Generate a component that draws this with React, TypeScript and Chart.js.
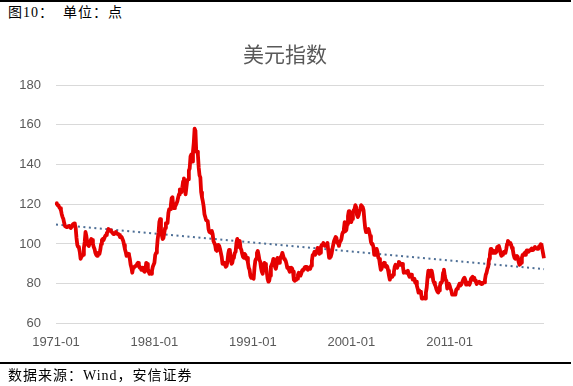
import React, { useEffect, useRef } from "react";
import { Chart, registerables } from "chart.js";

Chart.register(...registerables);

const startYear = 1971;
const dxyByYear: number[][] = [
  [120.5, 120.2, 119.5, 119.4, 118.5, 118.0, 117.0, 115.0, 113.5, 112.5, 110.5, 109.0],
  [109.0, 108.5, 108.5, 108.8, 109.0, 108.5, 108.0, 108.5, 109.5, 110.0, 110.3, 110.0],
  [108.0, 103.0, 99.5, 98.5, 98.0, 96.0, 92.5, 93.5, 94.0, 94.5, 98.0, 101.0],
  [106.0, 104.0, 101.0, 99.5, 99.0, 100.5, 101.5, 102.5, 102.0, 100.0, 98.5, 97.5],
  [95.5, 94.5, 94.0, 95.5, 95.0, 95.0, 97.0, 100.0, 102.0, 102.5, 102.0, 103.0],
  [104.0, 104.5, 105.5, 106.0, 107.5, 107.0, 107.0, 106.5, 106.0, 105.5, 105.0, 105.0],
  [105.5, 106.0, 105.5, 105.0, 105.0, 104.5, 103.5, 103.5, 103.5, 102.5, 101.5, 99.5],
  [97.5, 96.0, 94.0, 94.5, 95.0, 94.5, 92.5, 89.5, 88.0, 85.5, 88.0, 88.5],
  [88.5, 89.0, 89.0, 90.0, 90.5, 89.5, 88.0, 88.0, 87.0, 88.0, 87.5, 86.5],
  [86.0, 86.5, 90.5, 90.0, 87.5, 86.0, 85.0, 85.5, 85.0, 86.5, 88.5, 89.5],
  [90.5, 94.5, 95.5, 97.5, 102.5, 105.5, 111.0, 112.5, 106.5, 104.5, 102.5, 103.0],
  [105.5, 108.0, 110.5, 110.5, 110.5, 115.5, 117.5, 117.5, 119.5, 123.0, 123.5, 118.0],
  [118.0, 119.0, 119.5, 120.5, 121.5, 123.5, 125.0, 127.5, 127.5, 126.0, 128.5, 131.5],
  [133.0, 129.0, 125.0, 128.5, 132.0, 132.5, 137.0, 138.0, 144.0, 145.0, 141.5, 146.5],
  [151.0, 158.0, 157.0, 146.5, 146.5, 145.0, 138.5, 134.5, 133.5, 126.0, 123.5, 121.5],
  [119.0, 115.0, 113.5, 112.0, 112.0, 111.5, 107.5, 106.0, 106.0, 105.5, 106.5, 105.0],
  [101.5, 100.5, 99.5, 97.0, 96.5, 98.0, 99.5, 99.0, 97.5, 97.5, 93.5, 90.0],
  [90.0, 90.5, 89.5, 88.5, 89.0, 91.0, 95.0, 97.0, 96.5, 93.5, 90.0, 90.5],
  [93.0, 93.5, 95.5, 96.0, 100.5, 102.5, 98.5, 100.5, 101.5, 98.0, 97.0, 95.0],
  [93.5, 93.0, 95.0, 94.5, 92.5, 93.0, 90.5, 88.0, 87.0, 84.0, 83.0, 83.5],
  [83.0, 82.5, 88.0, 91.5, 92.5, 95.5, 96.5, 94.5, 92.0, 91.0, 88.0, 86.0],
  [85.0, 88.0, 90.5, 90.0, 88.5, 86.0, 82.5, 81.0, 81.5, 84.0, 88.5, 89.5],
  [90.5, 92.5, 92.0, 88.5, 87.5, 89.5, 93.0, 92.5, 90.5, 92.0, 93.5, 94.0],
  [95.5, 94.0, 92.5, 92.0, 91.5, 90.0, 88.0, 88.0, 87.0, 86.0, 86.5, 88.0],
  [87.5, 86.0, 82.0, 81.5, 82.5, 82.0, 82.5, 84.5, 85.5, 84.0, 84.0, 85.0],
  [86.5, 87.0, 87.0, 88.0, 88.5, 88.5, 87.5, 87.0, 87.5, 88.0, 87.5, 89.0],
  [91.5, 94.5, 94.5, 96.0, 94.5, 94.5, 96.5, 98.0, 96.5, 95.0, 95.5, 98.5],
  [99.5, 99.5, 100.5, 99.5, 99.0, 99.5, 99.5, 100.5, 96.5, 93.0, 94.5, 93.5],
  [95.0, 97.5, 99.5, 101.5, 101.5, 103.5, 103.0, 100.5, 100.5, 99.0, 101.0, 101.5],
  [102.5, 105.0, 106.0, 107.5, 111.0, 106.5, 107.0, 110.0, 114.0, 116.5, 116.5, 113.0],
  [111.0, 112.5, 115.5, 117.0, 117.5, 119.5, 118.5, 114.5, 113.5, 114.5, 116.5, 117.5],
  [119.5, 119.5, 118.5, 117.0, 112.0, 108.0, 106.0, 106.5, 106.5, 107.5, 106.0, 104.0],
  [101.0, 100.0, 100.0, 98.5, 94.5, 94.5, 96.0, 97.5, 96.0, 93.0, 92.5, 89.5],
  [87.0, 87.5, 89.0, 90.0, 90.5, 89.5, 88.5, 89.0, 88.5, 86.5, 84.0, 82.0],
  [83.5, 84.0, 83.5, 84.5, 86.0, 88.5, 89.5, 88.5, 88.0, 89.5, 91.0, 90.5],
  [89.5, 90.0, 90.0, 88.5, 85.5, 86.0, 86.0, 85.5, 85.5, 86.5, 84.5, 83.5],
  [84.5, 84.5, 83.5, 82.0, 82.0, 82.5, 80.5, 81.0, 79.0, 77.5, 75.5, 76.5],
  [76.0, 75.5, 72.5, 72.5, 72.7, 73.0, 72.5, 75.5, 78.0, 83.0, 86.5, 83.5],
  [83.5, 86.5, 86.5, 84.5, 81.5, 80.5, 79.5, 78.5, 77.0, 76.0, 75.5, 76.5],
  [78.5, 80.5, 80.5, 81.5, 85.5, 87.0, 84.0, 82.0, 81.5, 77.5, 78.5, 80.0],
  [79.0, 77.5, 76.5, 74.5, 74.5, 74.5, 74.5, 74.5, 77.0, 77.5, 78.0, 79.0],
  [80.0, 79.0, 79.5, 79.5, 81.5, 82.5, 83.0, 82.0, 79.5, 79.8, 80.5, 80.0],
  [79.5, 80.5, 82.5, 82.5, 83.5, 82.0, 83.0, 81.5, 80.9, 79.8, 80.7, 80.5],
  [81.0, 80.5, 80.0, 79.8, 80.0, 80.5, 80.6, 82.0, 84.5, 85.5, 87.5, 88.5],
  [92.5, 94.5, 97.5, 97.5, 95.5, 95.5, 96.5, 95.5, 95.5, 96.0, 98.5, 98.5],
  [99.0, 97.5, 95.5, 94.0, 94.5, 95.0, 96.0, 95.5, 95.5, 97.5, 100.0, 101.5],
  [101.0, 100.5, 100.5, 99.5, 98.0, 97.0, 94.5, 93.0, 92.5, 93.5, 94.0, 93.5],
  [91.0, 89.5, 89.8, 90.5, 93.0, 94.5, 94.5, 95.3, 94.5, 96.0, 96.8, 96.8],
  [96.0, 96.6, 96.8, 97.2, 97.7, 96.9, 97.0, 98.0, 98.5, 97.8, 97.8, 97.5],
  [97.5, 98.8, 99.0, 99.8, 99.6, 97.2, 95.0, 92.8],
];

const trendStart = 109.8;
const trendEnd = 87.3;
const yTicks = [60, 80, 100, 120, 140, 160, 180];
const labelYears = [1971, 1981, 1991, 2001, 2011];
const chartTitle = "美元指数";

const months: string[] = [];
const values: number[] = [];
dxyByYear.forEach((row, i) => {
  row.forEach((v, m) => {
    months.push(`${startYear + i}-${String(m + 1).padStart(2, "0")}`);
    values.push(v);
  });
});
const tickLabels = labelYears.map((y) => `${y}-01`);

export default function App() {
  const ref = useRef<HTMLCanvasElement | null>(null);
  useEffect(() => {
    if (!ref.current) return;
    const chart = new Chart(ref.current, {
      type: "line",
      data: {
        labels: months,
        datasets: [
          {
            data: values,
            borderColor: "#E50000",
            borderWidth: 3.8,
            pointRadius: 0,
            tension: 0,
            borderJoinStyle: "round",
            order: 1,
          },
          {
            data: [
              { x: months[0], y: trendStart },
              { x: months[months.length - 1], y: trendEnd },
            ] as any,
            borderColor: "#4E6F96",
            borderWidth: 2,
            borderDash: [2, 3.5],
            pointRadius: 0,
            order: 2,
          },
        ],
      },
      options: {
        animation: false,
        responsive: false,
        maintainAspectRatio: false,
        layout: { padding: { left: 14, right: 29, top: 85, bottom: 25 } },
        plugins: {
          legend: { display: false },
          tooltip: { enabled: false },
          title: { display: false },
        },
        scales: {
          x: {
            type: "category",
            offset: false,
            grid: { display: false, drawTicks: false },
            border: { display: false },
            ticks: {
              autoSkip: false,
              maxRotation: 0,
              minRotation: 0,
              padding: 11,
              color: "#595959",
              font: { family: "'Liberation Sans'", size: 13 },
              callback: (_v: any, i: number) =>
                tickLabels.includes(months[i]) ? months[i] : "",
            },
          },
          y: {
            min: 60,
            max: 180,
            afterBuildTicks: (axis: any) => {
              axis.ticks = yTicks.map((v) => ({ value: v }));
            },
            afterFit: (axis: any) => {
              axis.width = 42;
            },
            grid: { color: "#D9D9D9", lineWidth: 1, drawTicks: false },
            border: { display: false },
            ticks: {
              padding: 15,
              color: "#595959",
              font: { family: "'Liberation Sans'", size: 13 },
            },
          },
        },
      },
    });
    return () => chart.destroy();
  }, []);

  const textStyle: React.CSSProperties = {
    position: "absolute",
    fontFamily: "'Liberation Serif', 'Noto Sans CJK SC'",
    fontSize: 14,
    color: "#000",
    whiteSpace: "pre",
    lineHeight: "16px",
    letterSpacing: 1,
  };

  return (
    <div
      style={{
        position: "absolute",
        left: 0,
        top: 0,
        width: 573,
        height: 386,
        background: "#fff",
        overflow: "hidden",
      }}
    >
      <div style={{ position: "absolute", left: 0, top: 0, width: 571, height: 2, background: "#000" }} />
      <div style={{ ...textStyle, left: 8, top: 5 }}>{"图10：  单位：点"}</div>
      <canvas
        ref={ref}
        width={573}
        height={386}
        style={{ position: "absolute", left: 0, top: 0, width: 573, height: 386 }}
      />
      <div
        style={{
          position: "absolute",
          left: 185,
          width: 200,
          top: 40,
          textAlign: "center",
          fontFamily: "'Noto Sans CJK SC'",
          fontSize: 21,
          lineHeight: "26px",
          color: "#595959",
        }}
      >
        {chartTitle}
      </div>
      <div style={{ position: "absolute", left: 0, top: 362, width: 571, height: 2, background: "#000" }} />
      <div style={{ ...textStyle, left: 8, top: 368 }}>{"数据来源：Wind，安信证券"}</div>
    </div>
  );
}
